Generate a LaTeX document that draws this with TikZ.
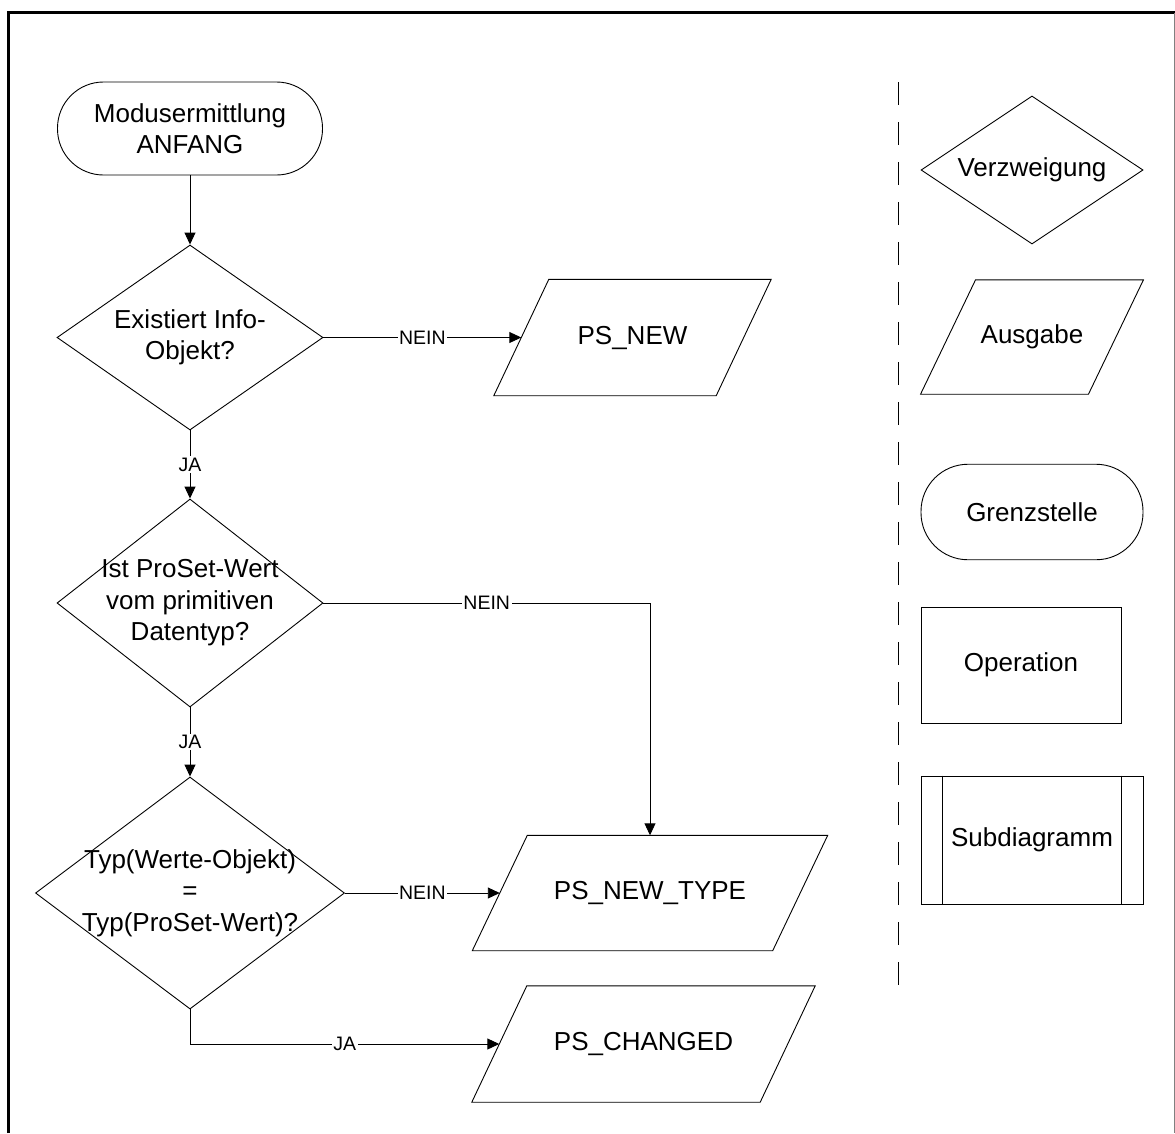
\documentclass[tikz,border=0pt]{standalone}
\usepackage{fontspec}
\setmainfont{Liberation Sans}
\usetikzlibrary{shapes.geometric, arrows.meta}

\begin{document}
\begin{tikzpicture}[x=1pt, y=-1pt,
  every node/.style={font=\fontsize{26}{31.5}\selectfont},
  shapeline/.style={draw=black, line width=0.9pt},
  term/.style={shapeline, rectangle, rounded corners=#1, inner sep=0pt, align=center},
  dec/.style={shapeline, diamond, inner sep=0pt},
  io/.style={rectangle, inner sep=0pt, minimum height=116pt},
  op/.style={shapeline, rectangle, inner sep=0pt},
  txt/.style={align=center, inner sep=0pt},
  flow/.style={line width=0.9pt, -{Triangle[length=12pt,width=11pt]}},
  lab/.style={font=\fontsize{19.5}{22}\selectfont, fill=white, inner sep=1.5pt},
  sep/.style={line width=0.9pt, dash pattern=on 23pt off 17pt},
]
\useasboundingbox (0,0) rectangle (1175,1133);

% page frame
\draw[line width=3pt] (8.5,1133) -- (8.5,12.5) -- (1175,12.5);
\draw[gray, line width=1pt] (1174,12.5) -- (1174,1133);

% main flow
\node[term=46pt, minimum width=265pt, minimum height=93pt] (start) at (190,128.5) {Modusermittlung\\ANFANG};

\node[dec, minimum width=266pt, minimum height=185pt] (d1) at (190,337.5) {};
\node[txt] (d1t) at (d1.center) {Existiert Info-\\Objekt?};

\node[io, minimum width=222pt] (psnew) at (632.5,337.5) {PS\_NEW};

\node[dec, minimum width=266pt, minimum height=208pt] (d2) at (190,603) {};
\node[txt] (d2t) at (d2.center) {Ist ProSet-Wert\\vom primitiven\\Datentyp?};

\node[dec, minimum width=309pt, minimum height=232pt] (d3) at (190,893) {};
\node[txt] (d3t) at (d3.center) {Typ(Werte-Objekt)\\=\\Typ(ProSet-Wert)?};

\node[io, minimum width=300pt, minimum height=115pt] (psnewtype) at (650,893) {PS\_NEW\_TYPE};
\node[io, minimum width=288pt] (pschanged) at (643.5,1044) {PS\_CHANGED};

% legend
\coordinate (dtop) at (898,82);
\coordinate (dbot) at (898,988);
\draw[sep] (dtop) -- (dbot);

\node[dec, minimum width=222pt, minimum height=148pt] (lgdec) at (1032,170) {};
\node[txt] (lgdect) at (lgdec.center) {Verzweigung};
\node[io, minimum width=167.5pt, minimum height=114pt] (lgout) at (1032,337) {Ausgabe};
\node[term=47pt, minimum width=222pt, minimum height=95.5pt] (lgterm) at (1032,512) {Grenzstelle};
\node[op, minimum width=200pt, minimum height=116pt] (lgop) at (1021,665) {Operation};
\node[op, minimum width=222pt, minimum height=128pt] (lgsub) at (1032,840) {Subdiagramm};
\draw[line width=0.9pt] ([xshift=22pt]lgsub.north west) -- ([xshift=22pt]lgsub.south west);
\draw[line width=0.9pt] ([xshift=-22pt]lgsub.north east) -- ([xshift=-22pt]lgsub.south east);

% parallelogram outlines for the output symbols
\foreach \n in {psnew, psnewtype, pschanged, lgout}
  \draw[shapeline] ([xshift=27.5pt]\n.north west) -- ([xshift=27.5pt]\n.north east)
    -- ([xshift=-27.5pt]\n.south east) -- ([xshift=-27.5pt]\n.south west) -- cycle;

% connectors
\draw[flow] (start.south) -- (d1.north);
\draw[flow] (d1.east) -- node[lab] {NEIN} (psnew.west);
\draw[flow] (d1.south) -- node[lab] {JA} (d2.north);
\draw[flow] (d2.east) -| node[lab, pos=0.25] {NEIN} (psnewtype.north);
\draw[flow] (d2.south) -- node[lab] {JA} (d3.north);
\draw[flow] (d3.east) -- node[lab] {NEIN} (psnewtype.west);
\draw[flow] (d3.south) |- node[lab, pos=0.75] {JA} (pschanged.west);
\end{tikzpicture}
\end{document}
